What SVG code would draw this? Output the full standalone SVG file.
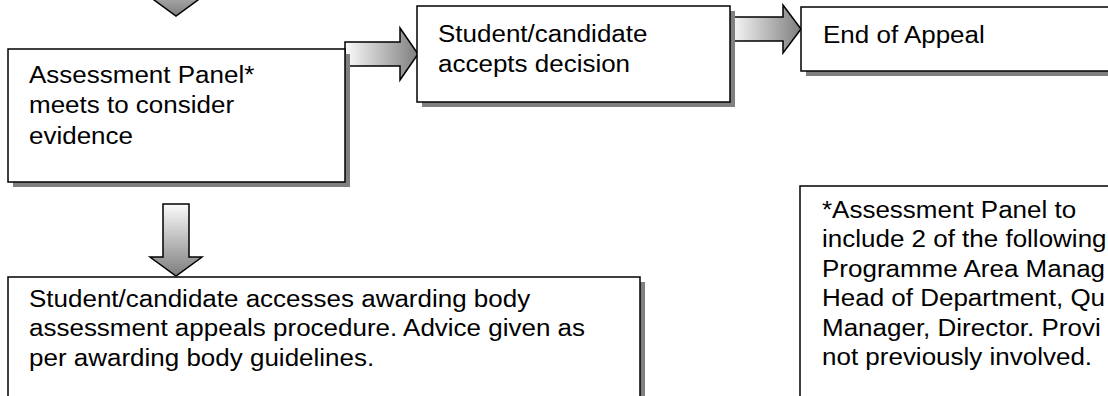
<svg xmlns="http://www.w3.org/2000/svg" width="1108" height="396" viewBox="0 0 1108 396">
<style>
.box{fill:#fff;stroke:#000;stroke-width:1.5}
.shadow{fill:#808080}
.arrow{stroke:#000;stroke-width:1.5;stroke-linejoin:miter}
.h{fill:url(#gh)}
.v{fill:url(#gv)}
text{font-family:"Liberation Sans",Arial,sans-serif;font-size:23px;fill:#000}
</style>
<defs>
<linearGradient id="gh" x1="0" y1="0" x2="1" y2="0">
<stop offset="0" stop-color="#fbfbfb"/>
<stop offset="1" stop-color="#7e7e7e"/>
</linearGradient>
<linearGradient id="gv" x1="0" y1="0" x2="0" y2="1">
<stop offset="0" stop-color="#fbfbfb"/>
<stop offset="1" stop-color="#7e7e7e"/>
</linearGradient>
</defs>
<rect width="1108" height="396" fill="#fff"/>
<g id="connectors">
<polygon class="arrow v" points="163,-40 189,-40 189,-3 202,-3 176,16 150,-3 163,-3"/>
<polygon class="arrow h" points="345,42 400,42 400,28 418,54 400,80 400,66 345,66"/>
<polygon class="arrow h" points="730,17 783,17 783,5 801,29 783,53 783,41 730,41"/>
<polygon class="arrow v" points="163,204 189,204 189,257 202,257 176,276 150,257 163,257"/>
</g>
<g id="assessment-panel">
<rect class="shadow" x="13" y="54" width="337" height="133"/>
<rect class="box" x="8" y="49" width="337" height="133"/>
<text transform="translate(29,83) scale(1.13,1)"><tspan x="0" y="0">Assessment Panel*</tspan><tspan x="0" y="30.5">meets to consider</tspan><tspan x="0" y="61">evidence</tspan></text>
</g>
<g id="accepts-decision">
<rect class="shadow" x="422" y="11" width="313" height="96"/>
<rect class="box" x="417" y="6" width="313" height="96"/>
<text transform="translate(438,42) scale(1.13,1)"><tspan x="0" y="0">Student/candidate</tspan><tspan x="0" y="30">accepts decision</tspan></text>
</g>
<g id="end-of-appeal">
<rect class="shadow" x="806" y="12" width="320" height="64"/>
<rect class="box" x="801" y="7" width="320" height="64"/>
<text transform="translate(823,43) scale(1.13,1)">End of Appeal</text>
</g>
<g id="awarding-body">
<rect class="shadow" x="13" y="282" width="632" height="130"/>
<rect class="box" x="8" y="277" width="632" height="130"/>
<text transform="translate(29,307) scale(1.13,1)"><tspan x="0" y="0">Student/candidate accesses awarding body</tspan><tspan x="0" y="29.3">assessment appeals procedure. Advice given as</tspan><tspan x="0" y="58.6">per awarding body guidelines.</tspan></text>
</g>
<g id="panel-note">
<rect class="shadow" x="805" y="191" width="320" height="220"/>
<rect class="box" x="800" y="186" width="320" height="220"/>
<text transform="translate(822,218) scale(1.13,1)"><tspan x="0" y="0">*Assessment Panel to</tspan><tspan x="0" y="29.5">include 2 of the following</tspan><tspan x="0" y="59">Programme Area Manag</tspan><tspan x="0" y="88.5">Head of Department, Qu</tspan><tspan x="0" y="118">Manager, Director. Provi</tspan><tspan x="0" y="147.5">not previously involved.</tspan></text>
</g>
</svg>
